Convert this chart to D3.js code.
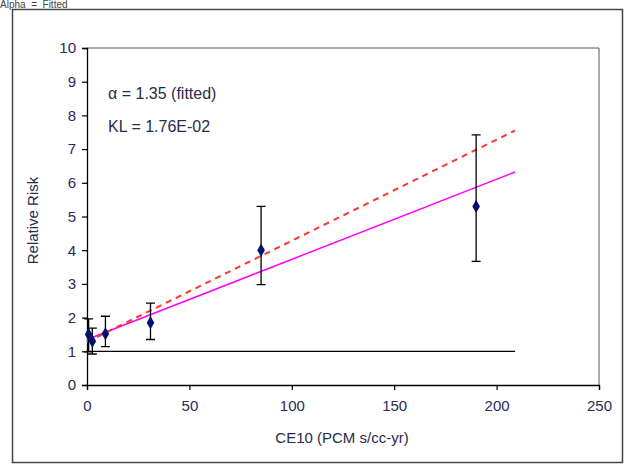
<!DOCTYPE html>
<html><head><meta charset="utf-8">
<script src="https://cdn.jsdelivr.net/npm/d3@7/dist/d3.min.js"></script>
<style>body{margin:0;background:#fff;}svg{display:block;font-family:"Liberation Sans",Arial,sans-serif;}</style>
</head><body><svg id="c" width="625" height="468"></svg>
<script>
// Data
const xVals   = [0.8, 2.6, 9, 31, 85, 190];
const rrVals  = [1.5, 1.3, 1.52, 1.85, 4.0, 5.3];
const rrLow   = [0.98, 0.92, 1.14, 1.35, 2.98, 3.67];
const rrHigh  = [1.96, 1.69, 2.04, 2.43, 5.3, 7.42];
const fittedLine = [[0, 1.35], [209, 6.32]];
const dashedLine = [[0, 1.28], [209, 7.55]];
const baseLine   = [[0, 1], [209, 1]];
const xTicks = [0, 50, 100, 150, 200, 250];
const yTicks = [0,1,2,3,4,5,6,7,8,9,10];
const annotations = ["\u03b1 = 1.35 (fitted)", "KL = 1.76E-02"];

const svg = d3.select("#c");
const x = d3.scaleLinear().domain([0, 250]).range([87, 599]);
const y = d3.scaleLinear().domain([0, 10]).range([385, 48]);
const FS = 15;

// outer frame
svg.append("rect").attr("x", 12.5).attr("y", 9.5).attr("width", 610).attr("height", 453)
  .attr("fill", "#fff").attr("stroke", "#444").attr("stroke-width", 1.5);
svg.append("text").attr("x", 0).attr("y", 8).attr("font-size", 10).attr("fill", "#444")
  .attr("xml:space","preserve").text("Alpha  =  Fitted");

// plot frame (top, right)
svg.append("path").attr("d", `M${x(0)},${y(10)}H${x(250)}V${y(0)}`)
  .attr("fill", "none").attr("stroke", "#555").attr("stroke-width", 1);

const tickColor = "#2a2a5a";
const gx = svg.append("g").attr("transform", `translate(0,${y(0)})`)
  .call(d3.axisBottom(x).tickValues(xTicks).tickSize(5).tickPadding(10));
const gy = svg.append("g").attr("transform", `translate(${x(0)},0)`)
  .call(d3.axisLeft(y).tickValues(yTicks).tickSize(5).tickPadding(6));
[gx, gy].forEach(g => {
  g.select(".domain").attr("stroke", "#000").attr("stroke-width", 1.3);
  g.selectAll(".tick line").attr("stroke", "#000").attr("stroke-width", 1.2);
  g.selectAll(".tick text").attr("fill", tickColor).attr("font-size", FS)
    .attr("font-family", "'Liberation Sans', Arial, sans-serif");
});

// axis titles
svg.append("text").attr("x", 342).attr("y", 443).attr("text-anchor", "middle")
  .attr("font-size", FS).attr("fill", "#2a2a4a").text("CE10 (PCM s/cc-yr)");
svg.append("text").attr("transform", `translate(38,${(y(0)+y(10))/2 + 4}) rotate(-90)`)
  .attr("text-anchor", "middle").attr("font-size", FS).attr("fill", "#2a2a4a").text("Relative Risk");

// annotations
annotations.forEach((t, i) => {
  svg.append("text").attr("x", 108).attr("y", 99 + i * 33).attr("font-size", 16)
    .attr("fill", "#2a2a4a").text(t);
});

const line = d3.line().x(d => x(d[0])).y(d => y(d[1]));
svg.append("path").attr("d", line(baseLine)).attr("stroke", "#000").attr("stroke-width", 1.3).attr("fill", "none");
svg.append("path").attr("d", line(fittedLine)).attr("stroke", "#ff00ff").attr("stroke-width", 1.5).attr("fill", "none");
svg.append("path").attr("d", line(dashedLine)).attr("stroke", "#ff3333").attr("stroke-width", 2)
  .attr("stroke-dasharray", "6,5").attr("fill", "none");

// error bars
const pts = xVals.map((v, i) => ({x: v, y: rrVals[i], lo: rrLow[i], hi: rrHigh[i]}));
const eb = svg.append("g").attr("stroke", "#000").attr("stroke-width", 1.3).attr("fill", "none");
pts.forEach(p => {
  eb.append("path").attr("d",
    `M${x(p.x)},${y(p.lo)}V${y(p.hi)}M${x(p.x)-4.5},${y(p.hi)}h9M${x(p.x)-4.5},${y(p.lo)}h9`);
});
// markers
svg.append("g").selectAll("path").data(pts).join("path")
  .attr("d", d3.symbol().type(d3.symbolDiamond).size(50))
  .attr("transform", d => `translate(${x(d.x)},${y(d.y)})`)
  .attr("fill", "#00106e");
</script></body></html>
